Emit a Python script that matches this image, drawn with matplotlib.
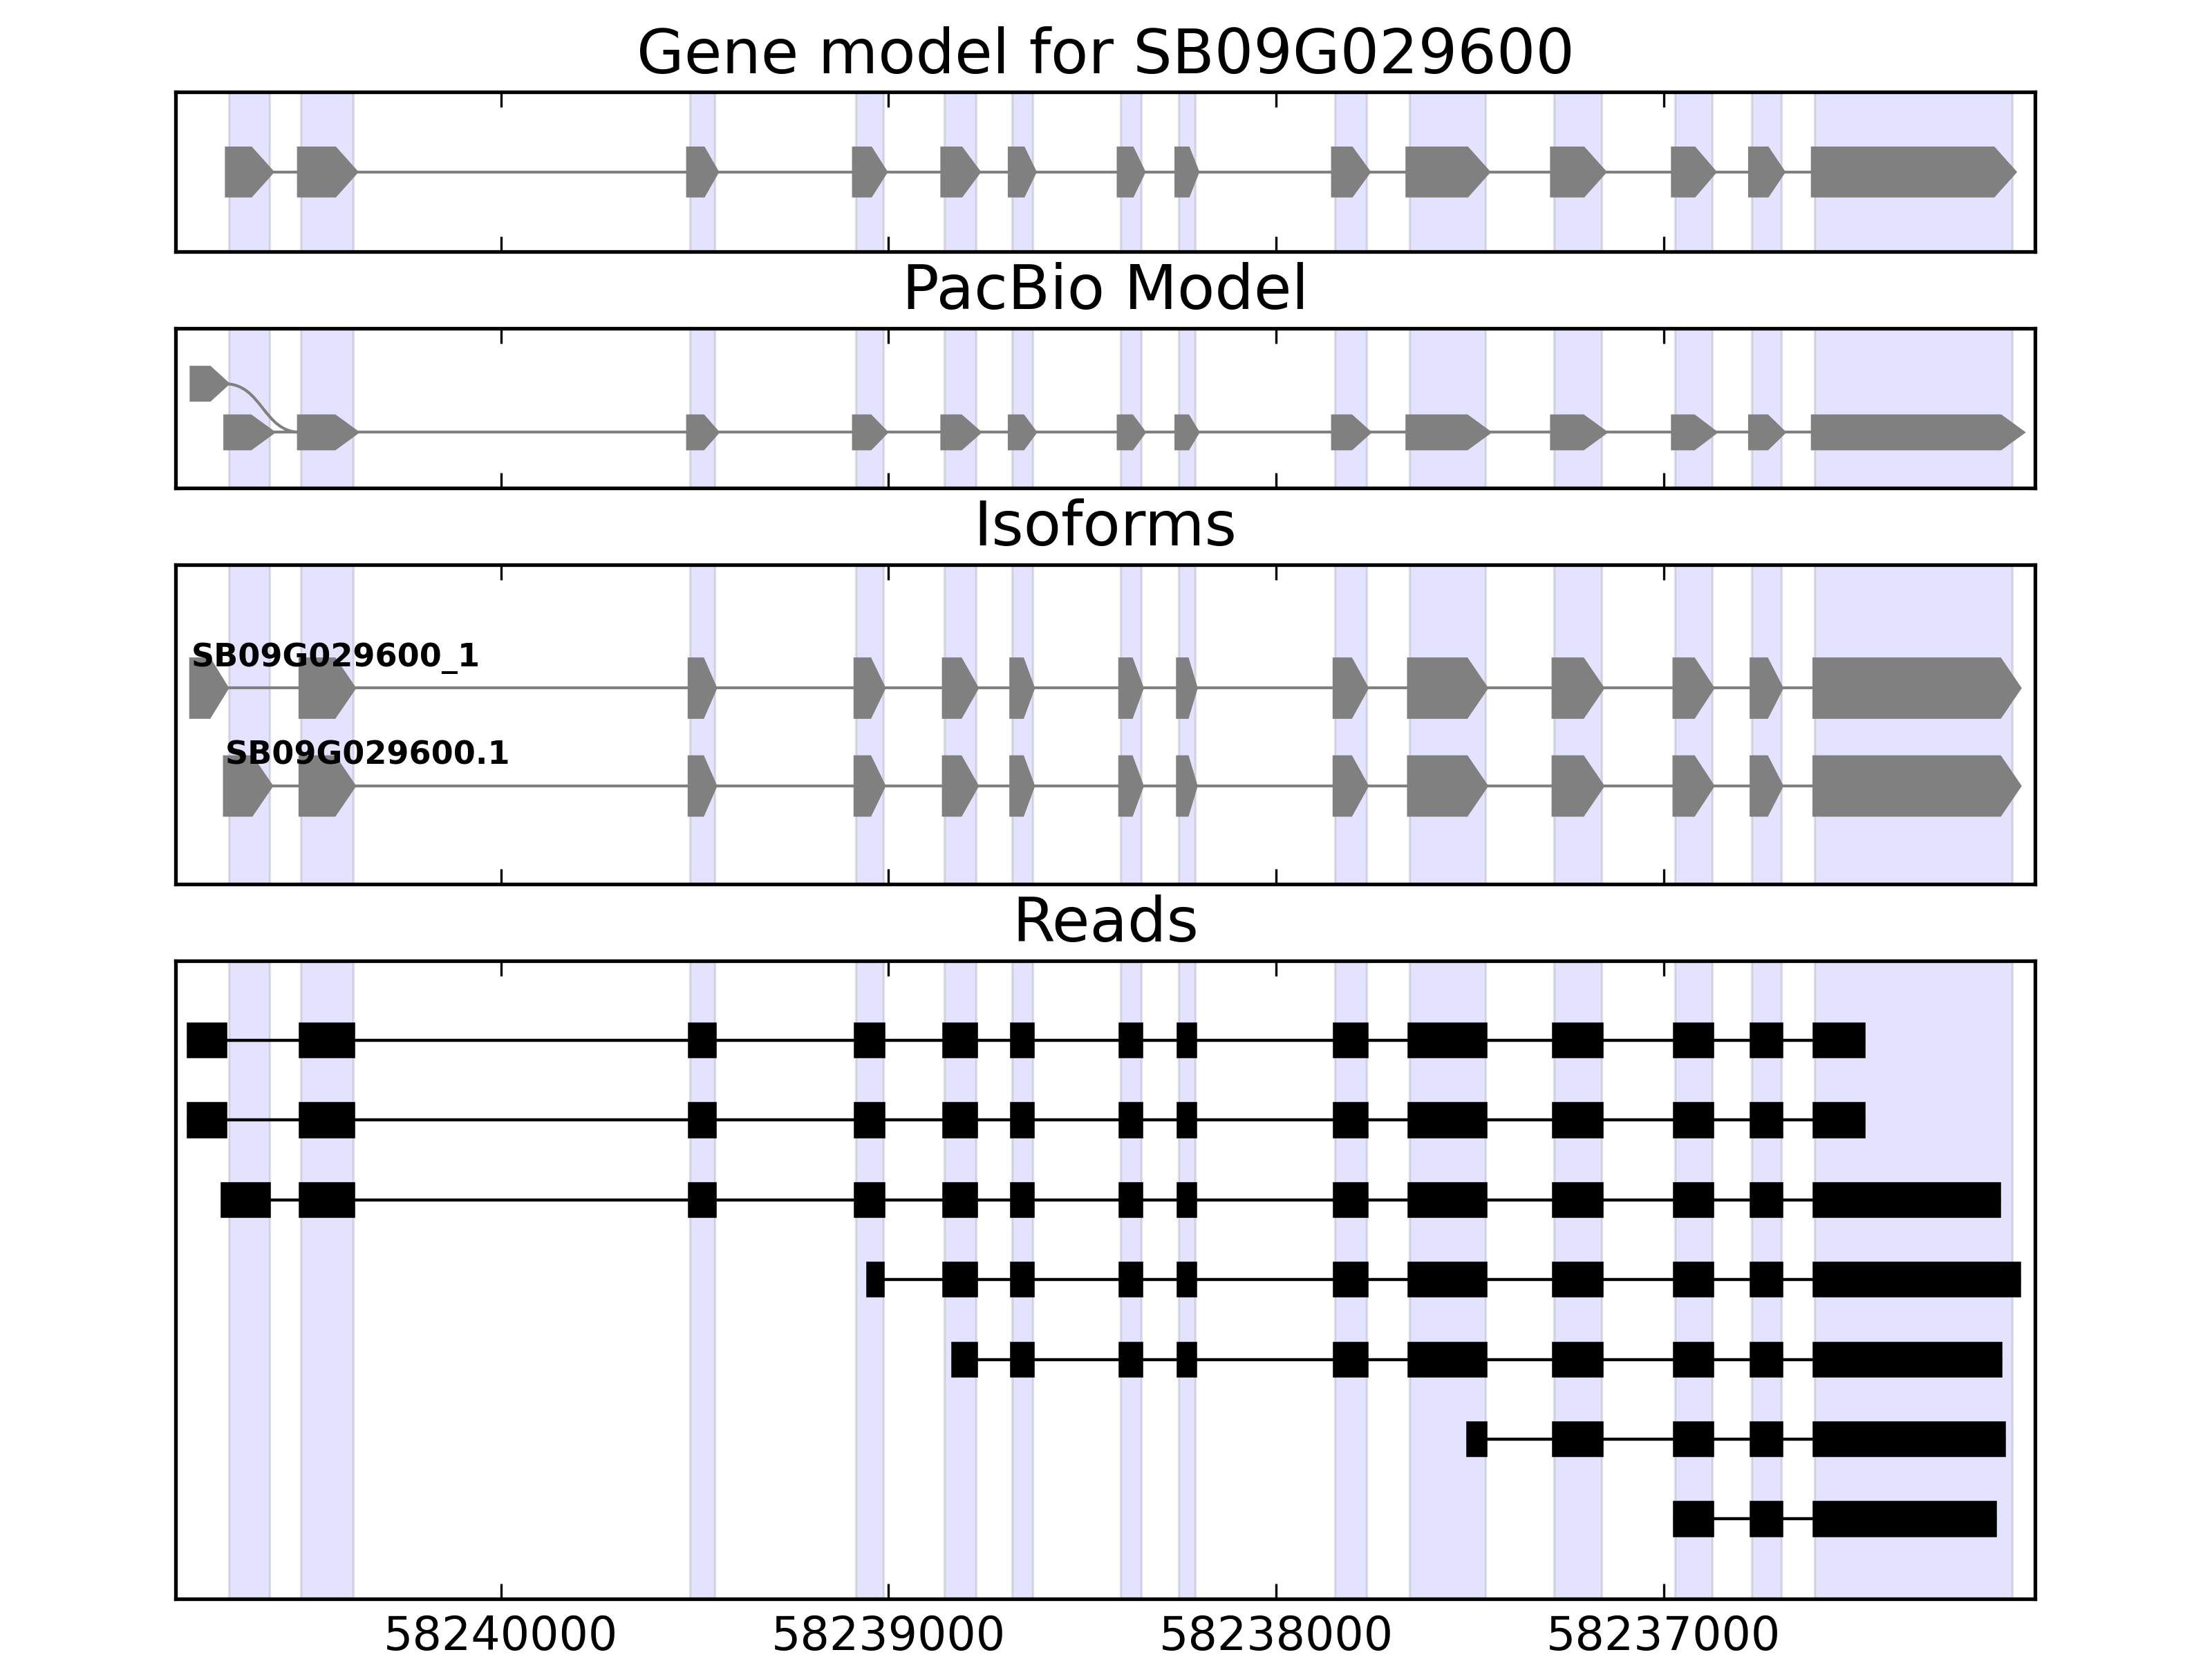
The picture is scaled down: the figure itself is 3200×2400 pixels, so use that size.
# Gene model / PacBio model / isoforms / reads for SB09G029600

import matplotlib
matplotlib.use('Agg')
import matplotlib.pyplot as plt
from matplotlib.patches import Polygon, Rectangle, PathPatch
from matplotlib.path import Path

plt.rcParams['font.family'] = 'DejaVu Sans'
plt.rcParams['font.size'] = 12

gene_name = 'SB09G029600'
view_start = 58240839   # left edge (axis is reversed, minus strand)
view_end = 58236041
tick_pos = [58240000, 58239000, 58238000, 58237000]

# reference gene model exons (low, high)
gene_exons = [(58240597, 58240702), (58240380, 58240516), (58239448, 58239512),
              (58239013, 58239084), (58238773, 58238856), (58238628, 58238682),
              (58238347, 58238401), (58238208, 58238252), (58237767, 58237848),
              (58237459, 58237656), (58237159, 58237283), (58236875, 58236971),
              (58236697, 58236772), (58236101, 58236610)]

# pacbio splice graph: main path + alternative first exon
pacbio_main = [(58240597, 58240706), (58240380, 58240516), (58239448, 58239512),
               (58239013, 58239084), (58238773, 58238856), (58238628, 58238682),
               (58238347, 58238401), (58238208, 58238252), (58237767, 58237848),
               (58237459, 58237656), (58237159, 58237283), (58236875, 58236971),
               (58236697, 58236772), (58236082, 58236610)]
pacbio_alt = (58240713, 58240793)

iso_names = ['SB09G029600_1', 'SB09G029600.1']
iso_exons = [
    [(58240708, 58240798), (58240380, 58240516), (58239448, 58239512),
     (58239013, 58239084), (58238773, 58238856), (58238628, 58238682),
     (58238347, 58238401), (58238208, 58238252), (58237767, 58237848),
     (58237459, 58237656), (58237159, 58237283), (58236875, 58236971),
     (58236697, 58236772), (58236083, 58236610)],
    [(58240594, 58240711), (58240380, 58240516), (58239448, 58239512),
     (58239013, 58239084), (58238773, 58238856), (58238628, 58238682),
     (58238347, 58238401), (58238208, 58238252), (58237767, 58237848),
     (58237459, 58237656), (58237159, 58237283), (58236875, 58236971),
     (58236697, 58236772), (58236083, 58236610)],
]

reads = [
    [(58240711, 58240806), (58240380, 58240516), (58239448, 58239512), (58239013, 58239084),
     (58238773, 58238856), (58238628, 58238682), (58238347, 58238401), (58238208, 58238252),
     (58237767, 58237848), (58237459, 58237656), (58237159, 58237283), (58236875, 58236971),
     (58236697, 58236772), (58236483, 58236610)],
    [(58240711, 58240806), (58240380, 58240516), (58239448, 58239512), (58239013, 58239084),
     (58238773, 58238856), (58238628, 58238682), (58238347, 58238401), (58238208, 58238252),
     (58237767, 58237848), (58237459, 58237656), (58237159, 58237283), (58236875, 58236971),
     (58236697, 58236772), (58236483, 58236610)],
    [(58240598, 58240718), (58240380, 58240516), (58239448, 58239512), (58239013, 58239084),
     (58238773, 58238856), (58238628, 58238682), (58238347, 58238401), (58238208, 58238252),
     (58237767, 58237848), (58237459, 58237656), (58237159, 58237283), (58236875, 58236971),
     (58236697, 58236772), (58236135, 58236610)],
    [(58239014, 58239052),
     (58238773, 58238856), (58238628, 58238682), (58238347, 58238401), (58238208, 58238252),
     (58237767, 58237848), (58237459, 58237656), (58237159, 58237283), (58236875, 58236971),
     (58236697, 58236772), (58236082, 58236610)],
    [(58238773, 58238833), (58238628, 58238682), (58238347, 58238401), (58238208, 58238252),
     (58237767, 58237848), (58237459, 58237656), (58237159, 58237283), (58236875, 58236971),
     (58236697, 58236772), (58236130, 58236610)],
    [(58237459, 58237504), (58237159, 58237283), (58236875, 58236971),
     (58236697, 58236772), (58236121, 58236610)],
    [(58236875, 58236971), (58236697, 58236772), (58236145, 58236610)],
]

GREY = '#808080'
EXON_H = 0.58
HEAD = 50


def exon_arrow(ax, lo, hi, y, h, lw):
    """minus strand exon, point towards low coordinate"""
    head = min(HEAD, 0.5 * (hi - lo))
    pts = [(hi, y - h / 2), (hi, y + h / 2), (lo + head, y + h / 2), (lo, y), (lo + head, y - h / 2)]
    ax.add_patch(Polygon(pts, closed=True, facecolor=GREY, edgecolor=GREY, lw=lw, zorder=3))


def setup(ax, title):
    ax.set_xlim(view_start, view_end)
    for lo, hi in gene_exons:
        ax.axvspan(lo, hi, facecolor='b', edgecolor='k', alpha=0.11, lw=0.6, zorder=0)
    ax.set_xticks(tick_pos)
    ax.ticklabel_format(useOffset=False, style='plain', axis='x')
    ax.tick_params(axis='x', direction='in', top=True, bottom=True, length=4, width=0.6,
                   labelsize=12, pad=4)
    ax.set_yticks([])
    for s in ax.spines.values():
        s.set_linewidth(0.95)
    ax.set_title(title, fontsize=16, pad=5)


fig = plt.figure(figsize=(8, 6), dpi=400)
gs = fig.add_gridspec(4, 1, height_ratios=[1, 1, 2, 4], left=0.0794, right=0.9201,
                      top=0.9444, bottom=0.0363, hspace=0.2405)
ax1 = fig.add_subplot(gs[0])
ax2 = fig.add_subplot(gs[1])
ax3 = fig.add_subplot(gs[2])
ax4 = fig.add_subplot(gs[3])

# gene model
setup(ax1, 'Gene model for %s' % gene_name)
ax1.set_ylim(-1.07, 1.07)
ax1.plot([gene_exons[0][1], gene_exons[-1][0]], [0, 0], color=GREY, lw=0.75, zorder=2)
for lo, hi in gene_exons:
    exon_arrow(ax1, lo, hi, 0, EXON_H, 2.0)

# pacbio model
setup(ax2, 'PacBio Model')
ax2.set_ylim(-1.145, 2.135)
ax2.plot([pacbio_main[0][1], pacbio_main[-1][0]], [0, 0], color=GREY, lw=0.75, zorder=2)
for lo, hi in pacbio_main:
    exon_arrow(ax2, lo, hi, 0, EXON_H, 2.0)
exon_arrow(ax2, pacbio_alt[0], pacbio_alt[1], 1, EXON_H, 2.0)
x0, x1 = pacbio_alt[0], pacbio_main[1][1]
xm = (x0 + x1) / 2.0
curve = Path([(x0, 1), (xm, 1), (xm, 0), (x1, 0)],
             [Path.MOVETO, Path.CURVE4, Path.CURVE4, Path.CURVE4])
ax2.add_patch(PathPatch(curve, facecolor='none', edgecolor=GREY, lw=0.75, zorder=2))

# isoforms
setup(ax3, 'Isoforms')
ax3.set_ylim(0, 3.26)
for i, (name, exons) in enumerate(zip(iso_names, iso_exons)):
    y = 2 - i
    ax3.plot([exons[0][1], exons[-1][0]], [y, y], color=GREY, lw=0.75, zorder=2)
    for lo, hi in exons:
        exon_arrow(ax3, lo, hi, y, EXON_H, 1.2)
    ax3.text(exons[0][1], y + 0.22, name, fontsize=8.3, fontweight='bold',
             ha='left', va='baseline', zorder=5)

# reads
setup(ax4, 'Reads')
ax4.set_ylim(0, len(reads) + 1)
for i, blocks in enumerate(reads):
    y = len(reads) - i
    ax4.plot([blocks[0][1], blocks[-1][0]], [y, y], color='k', lw=0.8, zorder=2)
    for lo, hi in blocks:
        ax4.add_patch(Rectangle((lo, y - 0.2), hi - lo, 0.4, facecolor='k',
                                edgecolor='k', lw=1.0, zorder=3))

for ax in (ax1, ax2, ax3):
    ax.tick_params(axis='x', labelbottom=False)

fig.savefig('out.png', dpi=400, facecolor='white')
